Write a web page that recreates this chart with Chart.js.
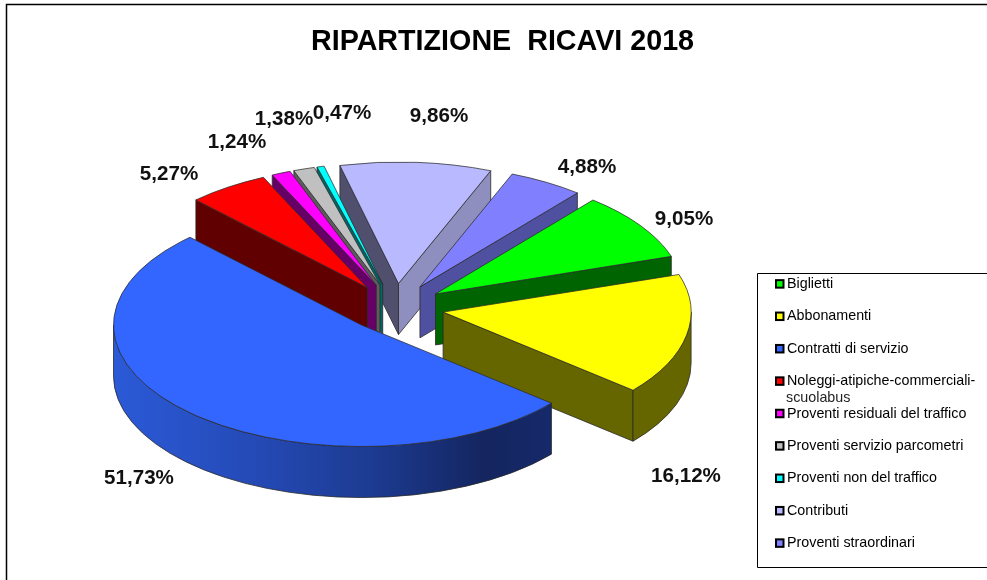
<!DOCTYPE html>
<html>
<head>
<meta charset="utf-8">
<style>html,body{margin:0;padding:0;background:#fff}canvas{display:block}</style>
<script src="https://cdn.jsdelivr.net/npm/chart.js@4"></script>
</head>
<body>
<canvas id="c" width="987" height="580"></canvas>
<script>
const categories = ['Biglietti','Abbonamenti','Contratti di servizio','Noleggi-atipiche-commerciali-','Proventi residuali del traffico','Proventi servizio parcometri','Proventi non del traffico','Contributi','Proventi straordinari'];
const categoryContinuation = {3:'scuolabus'};
const shares = [9.05,16.12,51.73,5.27,1.24,1.38,0.47,9.86,4.88];
const topColors = ['#00ff00','#ffff00','#3366ff','#ff0000','#ff00ff','#c0c0c0','#00ffff','#b9b9ff','#8080ff'];
const wallColors = ['#006400','#666600','#14255f','#600000','#660066','#5c5c5c','#006666','#8f8fbf','#5050a0'];
const wallColorsLeft = ['#006400','#666600','#14255f','#600000','#660066','#5c5c5c','#006666','#50506e','#5050a0'];
const labelCentres = [[684,219],[686,476],[139,478],[169,174],[237,142],[284,119],[342,113],[439,116],[587,167]];

const GEO = {cx:395, cy:307.5, k:0.49, explode:49, depth:51};
const EDGE = '#2a2a2a';

const pie3d = {
  id:'pie3d',
  afterLayout(chart){
    const l = chart.legend, p = l.options.labels.padding;
    l.left = 775-p; l.right = 986; l.top = 277-p; l.bottom = 575;
    l.width = l.right-l.left; l.height = l.bottom-l.top;
    const t = chart.titleBlock, h = 34.4;
    t.left = 18; t.right = 987; t.width = 969; t.top = 42.5-h/2; t.bottom = t.top+h; t.height = h;
  },
  beforeDraw(chart){
    const c = chart.ctx;
    c.save();
    c.fillStyle = '#fff'; c.fillRect(0,0,987,580);
    c.strokeStyle = '#000'; c.lineWidth = 1.5;
    c.beginPath(); c.moveTo(6.5,580); c.lineTo(6.5,4.5); c.lineTo(987,4.5); c.stroke();
    c.lineWidth = 1;
    c.beginPath(); c.moveTo(987,273.5); c.lineTo(757.5,273.5); c.lineTo(757.5,567.5); c.lineTo(987,567.5); c.stroke();
    c.restore();
  },
  beforeDatasetsDraw(chart){
    const c = chart.ctx, arcs = chart.getDatasetMeta(0).data;
    const {cx,cy,k,explode,depth} = GEO;
    const order = arcs.map((a,i)=>i).sort((p,q)=>{
      const m = i=>(arcs[i].startAngle+arcs[i].endAngle)/2;
      return Math.sin(m(p))-Math.sin(m(q));
    });
    for (const i of order){
      const a = arcs[i], s = a.startAngle, e = a.endAngle, R = a.outerRadius, m = (s+e)/2;
      const tx = cx+explode*Math.cos(m), ty = cy+k*explode*Math.sin(m);
      const px = t=>tx+R*Math.cos(t), py = t=>ty+k*R*Math.sin(t);
      c.save();
      c.strokeStyle = EDGE; c.lineWidth = 0.8; c.lineJoin = 'round';
      const edgeWall = (t,col)=>{
        c.beginPath(); c.moveTo(tx,ty); c.lineTo(px(t),py(t)); c.lineTo(px(t),py(t)+depth); c.lineTo(tx,ty+depth); c.closePath();
        c.fillStyle = col; c.fill(); c.stroke();
      };
      if (Math.cos(s)<0) edgeWall(s,wallColorsLeft[i]);
      if (Math.cos(e)>0) edgeWall(e,wallColors[i]);
      for (let n=-1;n<=1;n++){
        const lo = Math.max(s,2*Math.PI*n), hi = Math.min(e,2*Math.PI*n+Math.PI);
        if (hi<=lo) continue;
        c.beginPath();
        c.ellipse(tx,ty,R,k*R,0,lo,hi);
        c.lineTo(px(hi),py(hi)+depth);
        c.ellipse(tx,ty+depth,R,k*R,0,hi,lo,true);
        c.closePath();
        if (i===2){
          const g = c.createLinearGradient(tx-R,0,px(lo),0);
          g.addColorStop(0,'#2b5ad8'); g.addColorStop(0.34,'#2449b4'); g.addColorStop(0.6,'#1c3a90');
          g.addColorStop(0.85,'#14255f'); g.addColorStop(1,'#16296a');
          c.fillStyle = g;
        } else c.fillStyle = wallColors[i];
        c.fill(); c.stroke();
      }
      c.restore();
      c.save();
      c.translate(tx,ty); c.scale(1,k); c.translate(-a.x,-a.y);
      a.draw(c);
      c.restore();
    }
    return false;
  },
  afterDraw(chart){
    const c = chart.ctx, l = chart.legend;
    c.save();
    c.fillStyle = '#111';
    c.font = 'bold 20.6px "Liberation Sans"';
    c.textAlign = 'center'; c.textBaseline = 'middle';
    shares.forEach((v,i)=>c.fillText(v.toFixed(2).replace('.',',')+'%',labelCentres[i][0],labelCentres[i][1]));
    l.legendHitBoxes.forEach((h,i)=>{
      const top = h.top+h.height/2-4;
      c.fillStyle = topColors[i]; c.strokeStyle = '#000'; c.lineWidth = 2;
      c.fillRect(776,top,7.5,7.5); c.strokeRect(776,top,7.5,7.5);
    });
    c.fillStyle = '#222'; c.textAlign = 'left';
    c.font = '14.3px "Liberation Sans"';
    Object.entries(categoryContinuation).forEach(([i,t])=>{
      const h = l.legendHitBoxes[i];
      c.fillText(t,786,h.top+h.height/2+16.5);
    });
    c.restore();
  }
};

new Chart(document.getElementById('c'),{
  type:'pie',
  data:{labels:categories,datasets:[{data:shares,backgroundColor:topColors,borderColor:EDGE,borderWidth:1,radius:248}]},
  plugins:[pie3d],
  options:{
    responsive:false,animation:false,rotation:39.4,
    plugins:{
      tooltip:{enabled:false},
      title:{display:true,text:'RIPARTIZIONE  RICAVI 2018',color:'#000',padding:0,font:{family:'"Liberation Sans"',size:28.7,weight:'bold'}},
      legend:{position:'right',align:'start',labels:{
        boxWidth:4.85,boxHeight:9,padding:18.1,color:'#222',font:{family:'"Liberation Sans"',size:14.3},
        generateLabels:ch=>categories.map((t,i)=>({text:t,fillStyle:'rgba(0,0,0,0)',strokeStyle:'rgba(0,0,0,0)',lineWidth:0,index:i}))
      }}
    }
  }
});
</script>
</body>
</html>
